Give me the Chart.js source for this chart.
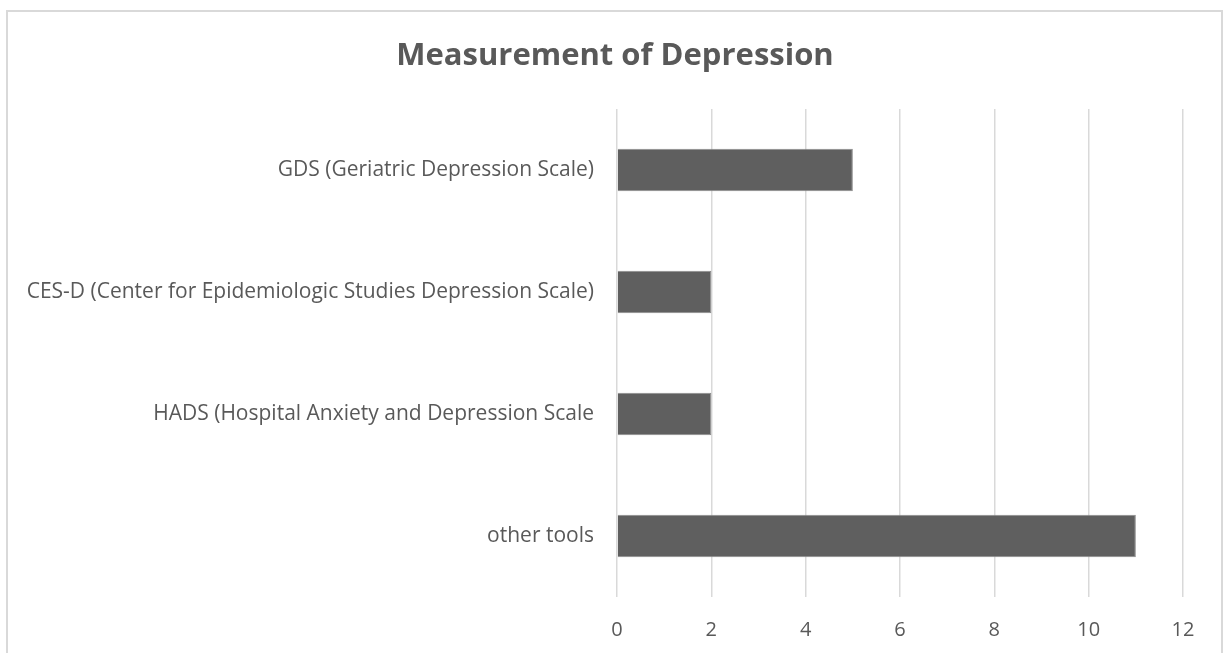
<!DOCTYPE html>
<html>
<head>
<meta charset="utf-8">
<script src="https://cdn.jsdelivr.net/npm/chart.js@4/dist/chart.umd.min.js"></script>
<style>
  html, body { margin: 0; padding: 0; background: #ffffff; overflow: hidden; }
  #frame {
    position: absolute; left: 6px; top: 10px; width: 1213px; height: 700px;
    border: 2px solid #d9d9d9; box-sizing: content-box;
  }
  #chart { position: absolute; left: 0; top: 0; }
</style>
</head>
<body>
<div id="frame"></div>
<canvas id="chart" width="1224" height="653"></canvas>
<script>
// Instruments used to measure depression, and how many studies used each
const categories = [
  'GDS (Geriatric Depression Scale)',
  'CES-D (Center for Epidemiologic Studies Depression Scale)',
  'HADS (Hospital Anxiety and Depression Scale',
  'other tools'
];
const studyCounts = [5, 2, 2, 11];
const xTicks = [0, 2, 4, 6, 8, 10, 12];
const chartTitle = 'Measurement of Depression';

const textGrey = '#595959';
const fontFamily = '"Open Sans", "Noto Sans", sans-serif';

// Title centred on the whole frame rather than on the plot area
const frameTitle = {
  id: 'frameTitle',
  afterDraw(chart) {
    const ctx = chart.ctx;
    ctx.save();
    ctx.font = `bold 31px ${fontFamily}`;
    ctx.fillStyle = textGrey;
    ctx.textAlign = 'center';
    ctx.textBaseline = 'middle';
    ctx.fillText(chartTitle, 615, 56);
    ctx.restore();
  }
};

new Chart(document.getElementById('chart'), {
  type: 'bar',
  data: {
    labels: categories,
    datasets: [{
      data: studyCounts,
      backgroundColor: '#5f5f5f',
      borderColor: '#8a8a8a',
      borderWidth: 1,
      barPercentage: 0.35,
      categoryPercentage: 1.0
    }]
  },
  plugins: [frameTitle],
  options: {
    indexAxis: 'y',
    responsive: false,
    animation: false,
    layout: { padding: { left: 0, right: 41, top: 109, bottom: 0 } },
    plugins: {
      legend: { display: false },
      tooltip: { enabled: false },
      title: { display: false }
    },
    scales: {
      x: {
        min: xTicks[0],
        max: xTicks[xTicks.length - 1],
        afterBuildTicks: (scale) => { scale.ticks = xTicks.map(v => ({ value: v })); },
        afterFit: (scale) => { scale.height = 56; },
        grid: { color: '#d9d9d9', lineWidth: 1.5, drawTicks: false },
        border: { display: false },
        ticks: {
          color: textGrey,
          padding: 21,
          font: { family: fontFamily, size: 20 }
        }
      },
      y: {
        afterFit: (scale) => { scale.width = 617; },
        grid: { display: false, drawTicks: false },
        border: { display: false },
        ticks: {
          color: textGrey,
          padding: 23,
          font: { family: fontFamily, size: 21 }
        }
      }
    }
  }
});
</script>
</body>
</html>
